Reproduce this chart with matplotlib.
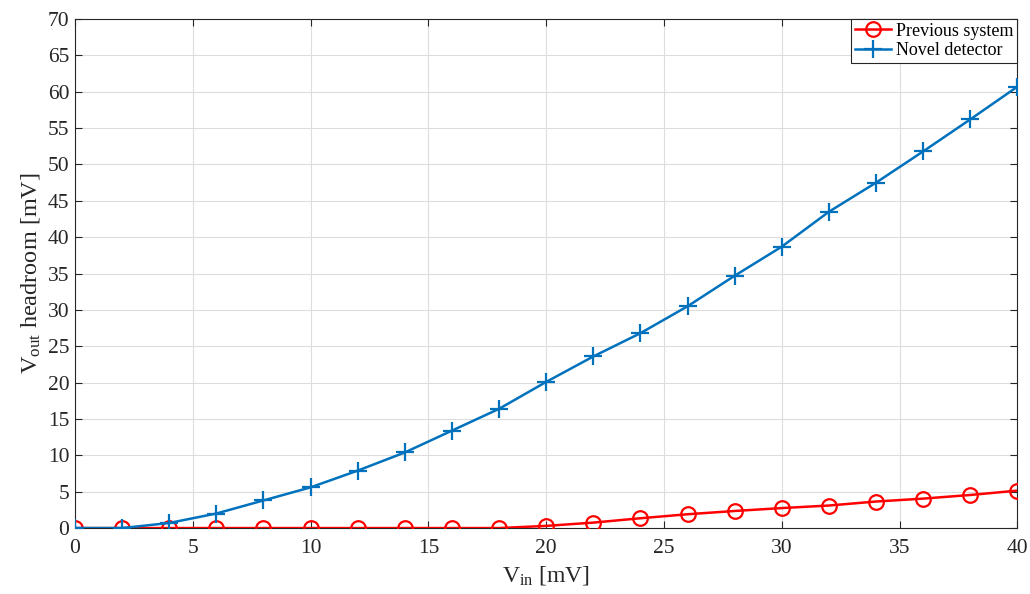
import numpy as np
import matplotlib
matplotlib.use('Agg')
import matplotlib.pyplot as plt

plt.rcParams['font.family'] = ['Liberation Serif', 'DejaVu Serif']
plt.rcParams['mathtext.fontset'] = 'custom'
plt.rcParams['mathtext.rm'] = 'Liberation Serif'
plt.rcParams['mathtext.it'] = 'Liberation Serif:italic'

# data
v_in = [0, 2, 4, 6, 8, 10, 12, 14, 16, 18, 20,
        22, 24, 26, 28, 30, 32, 34, 36, 38, 40]
previous_system = [0, 0, 0, 0, 0, 0, 0, 0, 0, 0, 0.3,
                   0.75, 1.35, 1.9, 2.35, 2.75, 3.1, 3.65, 4.05, 4.55, 5.15]
novel_detector = [0, 0, 0.7, 2.0, 3.8, 5.6, 7.9, 10.4, 13.4, 16.4, 20.1,
                  23.6, 26.8, 30.5, 34.7, 38.7, 43.5, 47.5, 51.8, 56.2, 60.7]

fig = plt.figure(figsize=(10.3, 5.94), dpi=100)
ax = fig.add_axes([0.0728, 0.111, 0.915, 0.857])

ax.plot(v_in, previous_system, color='#FF0000', lw=1.8, marker='o',
        markersize=10.5, markerfacecolor='none', markeredgewidth=1.6,
        label='Previous system', zorder=3)
ax.plot(v_in, novel_detector, color='#0072BD', lw=1.8, marker='+',
        markersize=12.5, markeredgewidth=1.6, label='Novel detector', zorder=3)

ax.set_xlim(0, 40)
ax.set_ylim(0, 70)
ax.set_xticks(np.arange(0, 41, 5))
ax.set_yticks(np.arange(0, 71, 5))
ax.grid(True, color='#DDDDDD', lw=0.8)
ax.set_axisbelow(True)
ax.tick_params(direction='in', labelsize=15.5, colors='#262626',
               top=True, right=True, length=5, width=0.8)
ax.tick_params(axis='x', pad=8)
ax.tick_params(axis='y', pad=4)
for s in ax.spines.values():
    s.set_color('#262626')
    s.set_linewidth(0.8)

ax.set_xlabel(r'V$_{\rm in}$ [mV]', fontsize=17, color='#262626', labelpad=4)
ax.set_ylabel(r'V$_{\rm out}$ headroom [mV]', fontsize=17.5, color='#262626',
              labelpad=4)

leg = ax.legend(loc='upper right', fontsize=13, fancybox=False,
                edgecolor='#262626', framealpha=1, borderpad=0.2,
                handlelength=2.0, handletextpad=0.3, labelspacing=0.15,
                borderaxespad=0.0)
leg.get_frame().set_linewidth(0.8)

fig.savefig('out.png', dpi=100)
